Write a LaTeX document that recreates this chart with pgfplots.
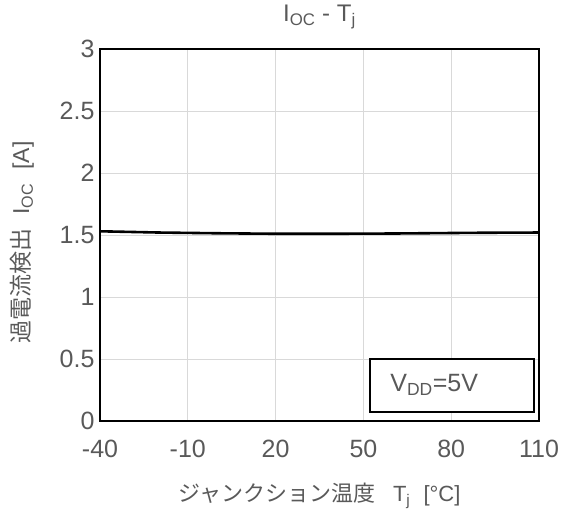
\documentclass[border=0pt]{standalone}
\usepackage{pgfplots}
\pgfplotsset{compat=1.18}
\usepackage{fontspec}
\setmainfont{Liberation Sans}
\newfontfamily\cjk{Noto Sans CJK JP}
\definecolor{txt}{HTML}{595959}
\definecolor{grd}{HTML}{D9D9D9}

\pgfplotstableread{
T I
-40 1.530
-30 1.525
-20 1.520
-10 1.517
0 1.514
10 1.512
20 1.510
30 1.510
40 1.510
50 1.511
60 1.512
70 1.514
80 1.516
90 1.518
100 1.519
110 1.520
}\ioc

\begin{document}
\begin{tikzpicture}
\useasboundingbox (-100pt,-96pt) rectangle (461pt,421pt);
\begin{axis}[
  at={(0pt,0pt)}, anchor=south west,
  width=439pt, height=372pt, scale only axis,
  xmin=-40, xmax=110, ymin=0, ymax=3,
  xtick={-40,-10,...,110}, ytick={0,0.5,...,3},
  major tick length=0pt,
  grid=major, major grid style={grd, line width=1pt},
  axis line style={black, line width=2.8pt},
  /pgf/number format/assume math mode=true,
  ticklabel style={font=\fontsize{25}{28}\selectfont, text=txt},
  xticklabel style={yshift=-16pt},
  yticklabel style={xshift=-2pt},
  yticklabel={\pgfmathprintnumber[fixed,precision=1]{\tick}},
  title={I\textsubscript{OC} - T\textsubscript{j}},
  title style={font=\fontsize{24}{27}\selectfont, text=txt, at={(axis description cs:0.5,1.07)}, anchor=center},
  xlabel={{\cjk ジャンクション温度}\hspace{0.8em}T\textsubscript{j}\hspace{0.6em}[°C]},
  xlabel style={font=\fontsize{22}{25}\selectfont, text=txt, at={(axis description cs:0.5,-0.2)}, anchor=center},
  ylabel={{\cjk 過電流検出}\hspace{0.6em}I\textsubscript{OC}\hspace{0.6em}[A]},
  ylabel style={font=\fontsize{23}{26}\selectfont, text=txt, at={(axis description cs:-0.178,0.48)}, anchor=center},
  clip=false,
]
\addplot[black, line width=2.6pt] table[x=T, y=I] {\ioc};
\draw[black, line width=1.8pt, fill=white] (axis cs:52.2,0.075) rectangle (axis cs:108.3,0.5);
\node[anchor=west, font=\fontsize{25}{28}\selectfont, text=txt] at (axis cs:58,0.29) {V\textsubscript{DD}=5V};
\end{axis}
\end{tikzpicture}
\end{document}
